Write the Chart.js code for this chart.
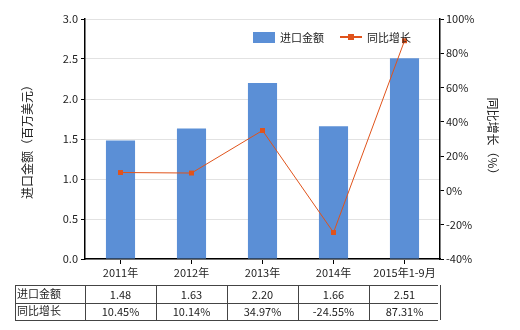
<!DOCTYPE html>
<html>
<head>
<meta charset="utf-8">
<script src="https://cdn.jsdelivr.net/npm/chart.js@4"></script>
<style>
  html, body { margin: 0; padding: 0; background: #fff; }
  #wrap { width: 520px; height: 330px; }
</style>
</head>
<body>
<div id="wrap"><canvas id="myChart" width="520" height="330"></canvas></div>
<script>
const labels = ['2011年', '2012年', '2013年', '2014年', '2015年1-9月'];
const importValues = [1.48, 1.63, 2.20, 1.66, 2.51];
const growthValues = [10.45, 10.14, 34.97, -24.55, 87.31];
const importText = ['1.48', '1.63', '2.20', '1.66', '2.51'];
const growthText = ['10.45%', '10.14%', '34.97%', '-24.55%', '87.31%'];
const rowNames = ['进口金额', '同比增长'];

const FONT = '"Noto Sans CJK SC", "Noto Sans", sans-serif';
const barColor = '#5B8FD6';
const lineColor = '#E0531B';

// legend + table under the axis
const extras = {
    id: 'extras',
    afterDraw(chart) {
        const ctx = chart.ctx;
        const x = chart.scales.x;
        const barSet = chart.data.datasets.find(d => d.type === 'bar');
        const lineSet = chart.data.datasets.find(d => d.type === 'line');
        ctx.save();
        ctx.font = '11px ' + FONT;
        ctx.textBaseline = 'middle';

        // legend
        ctx.fillStyle = barColor;
        ctx.fillRect(253, 32, 22, 11);
        ctx.fillStyle = '#222';
        ctx.textAlign = 'left';
        ctx.fillText(barSet.label, 280, 38);
        ctx.strokeStyle = lineColor;
        ctx.lineWidth = 2;
        ctx.beginPath();
        ctx.moveTo(340, 37);
        ctx.lineTo(362, 37);
        ctx.stroke();
        ctx.fillStyle = lineColor;
        ctx.fillRect(348, 34, 6, 6);
        ctx.fillStyle = '#222';
        ctx.fillText(lineSet.label, 367, 38);

        // table
        const top = 285, rowH = 17.5;
        const left = 15;
        const right = chart.chartArea.right - 2;
        const colW = x.getPixelForValue(1) - x.getPixelForValue(0);
        ctx.strokeStyle = '#444';
        ctx.lineWidth = 1;
        ctx.beginPath();
        for (let r = 0; r <= 2; r++) {
            const yy = Math.round(top + r * rowH) + 0.5;
            ctx.moveTo(left, yy);
            ctx.lineTo(right, yy);
        }
        ctx.moveTo(left + 0.5, top);
        ctx.lineTo(left + 0.5, top + 2 * rowH);
        for (let i = 0; i <= labels.length; i++) {
            const xx = Math.round(x.getPixelForValue(i) - colW / 2) + 0.5;
            ctx.moveTo(xx, top);
            ctx.lineTo(xx, top + 2 * rowH);
        }
        ctx.stroke();

        const rows = [importText, growthText];
        for (let r = 0; r < 2; r++) {
            const yy = top + r * rowH + rowH / 2;
            ctx.textAlign = 'left';
            ctx.fillText(rowNames[r], left + 2, yy);
            ctx.textAlign = 'center';
            rows[r].forEach((t, i) => ctx.fillText(t, x.getPixelForValue(i), yy + 1));
        }
        ctx.restore();
    }
};

const data = {
    labels: labels,
    datasets: [{
        type: 'line',
        label: '同比增长',
        data: growthValues,
        yAxisID: 'y1',
        borderColor: lineColor,
        backgroundColor: lineColor,
        borderWidth: 1,
        pointStyle: 'rect',
        pointRadius: 3.5,
        pointBorderWidth: 0,
        tension: 0,
        order: 0,
    }, {
        type: 'bar',
        label: '进口金额',
        data: importValues,
        yAxisID: 'y',
        backgroundColor: barColor,
        barPercentage: 0.41,
        categoryPercentage: 1,
        order: 1,
    }]
};

const options = {
    responsive: false,
    animation: false,
    layout: { padding: { top: 19, left: 0, right: 0, bottom: 0 } },
    plugins: {
        legend: { display: false },
        tooltip: { enabled: false },
    },
    scales: {
        x: {
            offset: true,
            grid: { offset: false, drawOnChartArea: false, drawTicks: true, tickLength: 5, color: '#000' },
            border: { color: '#000', width: 1.5 },
            ticks: { color: '#222', font: { family: FONT, size: 11 }, padding: 2, maxRotation: 0 },
            afterFit(s) { s.height = 71; },
        },
        y: {
            position: 'left',
            min: 0, max: 3,
            ticks: { stepSize: 0.5, color: '#222', font: { family: FONT, size: 11 }, padding: 3,
                callback: v => v.toFixed(1) },
            grid: { color: '#e2e2e2', tickColor: '#000', tickLength: 4 },
            border: { color: '#000', width: 1.5 },
            title: { display: true, text: '进口金额（百万美元）', color: '#222', font: { family: FONT, size: 12 }, padding: { top: 20, bottom: 0 } },
            afterFit(s) { s.width = 85; },
        },
        y1: {
            position: 'right',
            min: -40, max: 100,
            ticks: { stepSize: 20, color: '#222', font: { family: FONT, size: 11 }, padding: 2,
                callback: v => v + '%' },
            grid: { drawOnChartArea: false, tickColor: '#000', tickLength: 4 },
            border: { color: '#000', width: 1.5 },
            title: { display: true, text: '同比增长（%）', color: '#222', font: { family: FONT, size: 12 }, padding: { top: 20, bottom: 0 } },
            afterFit(s) { s.width = 80; },
        },
    },
};

const myChart = new Chart(
    document.getElementById('myChart'),
    { data: data, options: options, plugins: [extras] }
);
</script>
</body>
</html>
